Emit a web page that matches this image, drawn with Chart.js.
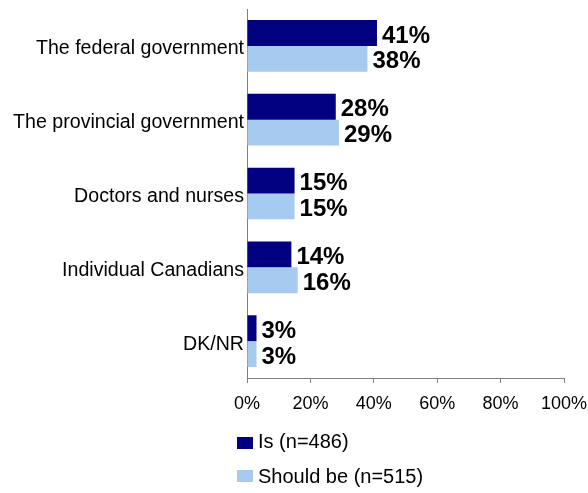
<!DOCTYPE html>
<html>
<head>
<meta charset="utf-8">
<script src="https://cdn.jsdelivr.net/npm/chart.js@4.4.0/dist/chart.umd.min.js"></script>
<style>
  html, body { margin: 0; padding: 0; background: #fff; }
  #wrap { position: relative; width: 588px; height: 493px; }
  #c { position: absolute; left: 0; top: 0; }
  .leg { position: absolute; left: 237px; font-family: "Liberation Sans", Arial, sans-serif; font-size: 20px; line-height: 24px; color: #000; white-space: nowrap; }
  .leg .box { position: absolute; left: 0; width: 16px; height: 12px; }
  .leg .txt { position: absolute; left: 21px; top: 0; }
</style>
</head>
<body>
<div id="wrap">
  <canvas id="c" width="588" height="493"></canvas>
  <div class="leg" id="leg0" style="top:429px;"><div class="box" style="top:8px;background:#000080"></div><span class="txt">Is (n=486)</span></div>
  <div class="leg" id="leg1" style="top:464px;"><div class="box" style="top:6px;background:#A6CAF0"></div><span class="txt">Should be (n=515)</span></div>
</div>
<script>
const categories = ["The federal government", "The provincial government", "Doctors and nurses", "Individual Canadians", "DK/NR"];
const seriesNames = ["Is (n=486)", "Should be (n=515)"];
const isValues = [41, 28, 15, 14, 3];
const shouldBeValues = [38, 29, 15, 16, 3];
const xTicks = [0, 20, 40, 60, 80, 100];
const colors = ["#000080", "#A6CAF0"];

const dataLabels = {
  id: 'dataLabels',
  afterDatasetsDraw(chart) {
    const ctx = chart.ctx;
    ctx.save();
    ctx.font = 'bold 24px "Liberation Sans", Arial, sans-serif';
    ctx.fillStyle = '#000';
    ctx.textAlign = 'left';
    ctx.textBaseline = 'middle';
    chart.data.datasets.forEach((ds, di) => {
      const meta = chart.getDatasetMeta(di);
      meta.data.forEach((bar, i) => {
        ctx.fillText(ds.data[i] + '%', bar.x + 5, bar.y + 3);
      });
    });
    ctx.restore();
  }
};

new Chart(document.getElementById('c'), {
  type: 'bar',
  data: {
    labels: categories,
    datasets: [
      { label: seriesNames[0], data: isValues, backgroundColor: colors[0], categoryPercentage: 0.7, barPercentage: 1.0 },
      { label: seriesNames[1], data: shouldBeValues, backgroundColor: colors[1], categoryPercentage: 0.7, barPercentage: 1.0 }
    ]
  },
  options: {
    indexAxis: 'y',
    responsive: false,
    animation: false,
    layout: { padding: { top: 9, right: 24, left: 0, bottom: 0 } },
    plugins: { legend: { display: false }, tooltip: { enabled: false } },
    scales: {
      x: {
        min: 0, max: 100,
        afterBuildTicks(axis) { axis.ticks = xTicks.map(v => ({ value: v })); },
        afterFit(axis) { axis.height = 115; axis.paddingLeft = 0; axis.paddingRight = 0; },
        grid: { drawOnChartArea: false, drawTicks: true, tickLength: 5, color: '#808080' },
        border: { color: '#808080', width: 1 },
        ticks: { padding: 10, color: '#000', font: { family: '"Liberation Sans", Arial, sans-serif', size: 18 }, callback: v => v + '%' }
      },
      y: {
        afterFit(axis) { axis.width = 247; axis.paddingTop = 0; axis.paddingBottom = 0; },
        grid: { display: false, drawTicks: false },
        border: { color: '#808080', width: 1 },
        ticks: { padding: 3, labelOffset: 3, color: '#000', font: { family: '"Liberation Sans", Arial, sans-serif', size: 19.6 } }
      }
    }
  },
  plugins: [dataLabels]
});
</script>
</body>
</html>
